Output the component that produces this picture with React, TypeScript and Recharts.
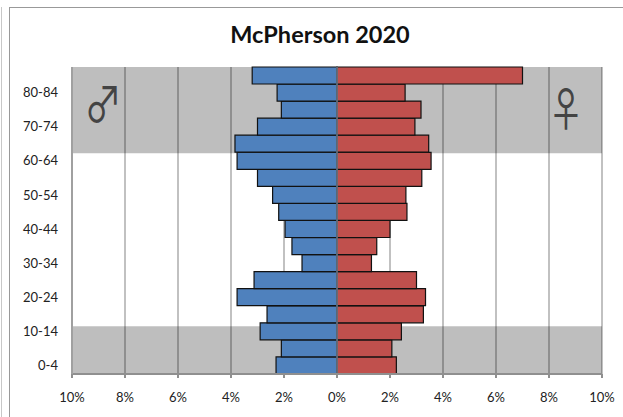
import {
  Bar,
  BarChart,
  CartesianGrid,
  ReferenceArea,
  ReferenceLine,
  XAxis,
  YAxis,
} from 'recharts';

const ageGroups = [
  '0-4', '5-9', '10-14', '15-19', '20-24', '25-29', '30-34', '35-39', '40-44',
  '45-49', '50-54', '55-59', '60-64', '65-69', '70-74', '75-79', '80-84', '85+',
];
const maleShare = [
  -2.3, -2.1, -2.9, -2.64, -3.77, -3.13, -1.32, -1.7, -1.96,
  -2.2, -2.43, -3.0, -3.77, -3.85, -3.0, -2.1, -2.26, -3.2,
];
const femaleShare = [
  2.24, 2.07, 2.43, 3.26, 3.34, 3.0, 1.3, 1.5, 2.0,
  2.64, 2.6, 3.2, 3.55, 3.46, 2.94, 3.17, 2.57, 7.0,
];
const percentTicks = [-10, -8, -6, -4, -2, 0, 2, 4, 6, 8, 10];

const chartData = ageGroups.map((age, i) => ({
  age,
  male: maleShare[i],
  female: femaleShare[i],
}));

const labelFont = 'Lato, "Open Sans", sans-serif';
const symbolFont = '"Noto Sans CJK JP", "DejaVu Sans"';

export default function App() {
  return (
    <div
      style={{
        position: 'fixed',
        left: 0,
        top: 0,
        width: 623,
        height: 417,
        overflow: 'hidden',
        background: '#fff',
        fontFamily: labelFont,
      }}
    >
      <div style={{ position: 'absolute', left: 1, top: 7, bottom: 0, width: 1, background: '#c8c8c8' }} />
      <div style={{ position: 'absolute', left: 9, top: 7, bottom: 0, right: 0, borderLeft: '1px solid #999', borderTop: '1px solid #999' }} />
      <BarChart
        width={623}
        height={417}
        data={chartData}
        layout="vertical"
        stackOffset="sign"
        barCategoryGap={0}
        margin={{ top: 67, right: 21, bottom: 0, left: 0 }}
        style={{ position: 'absolute', left: 0, top: 0 }}
      >
        <ReferenceArea yAxisId="band" y1={12.22} y2={17} fill="#000" fillOpacity={0.255} stroke="none" ifOverflow="visible" />
        <ReferenceArea yAxisId="band" y1={0} y2={2.65} fill="#000" fillOpacity={0.255} stroke="none" ifOverflow="visible" />
        <CartesianGrid horizontal={false} stroke="#adadad" strokeWidth={1.5} />
        <XAxis
          type="number"
          domain={[-10, 10]}
          ticks={percentTicks}
          tickFormatter={(v: number) => `${Math.abs(v)}%`}
          height={43}
          stroke="#8f8f8f"
          strokeWidth={2}
          tick={{ fontSize: 13, fill: '#222' }}
          tickSize={4}
          tickMargin={15}
          interval={0}
        />
        <YAxis
          type="category"
          dataKey="age"
          reversed
          width={72}
          interval={1}
          tickLine={false}
          stroke="#a0a0a0"
          strokeWidth={2}
          tick={{ fontSize: 13, fill: '#222' }}
          tickMargin={8}
        />
        <YAxis yAxisId="band" type="number" domain={[0, 17]} reversed hide />
        <Bar dataKey="male" stackId="pyramid" fill="#4f81bd" stroke="#111" strokeWidth={1.2} isAnimationActive={false} />
        <Bar dataKey="female" stackId="pyramid" fill="#c0504d" stroke="#111" strokeWidth={1.2} isAnimationActive={false} />
        <ReferenceLine x={0} stroke="#6f7f8f" strokeWidth={1.5} />
      </BarChart>
      <div
        style={{
          position: 'absolute',
          left: 172,
          width: 296,
          top: 18,
          textAlign: 'center',
          fontSize: 23.5,
          fontWeight: 700,
          color: '#111',
          lineHeight: '32px',
        }}
      >
        McPherson 2020
      </div>
      <div style={{ position: 'absolute', left: 78, top: 71, width: 50, textAlign: 'center', fontSize: 48, lineHeight: '60px', color: '#444', fontFamily: symbolFont, transform: 'scaleX(0.78)' }}>♂</div>
      <div style={{ position: 'absolute', left: 541, top: 76, width: 50, textAlign: 'center', fontSize: 46, lineHeight: '60px', color: '#444', fontFamily: symbolFont, transform: 'scaleX(0.78)' }}>♀</div>
    </div>
  );
}
